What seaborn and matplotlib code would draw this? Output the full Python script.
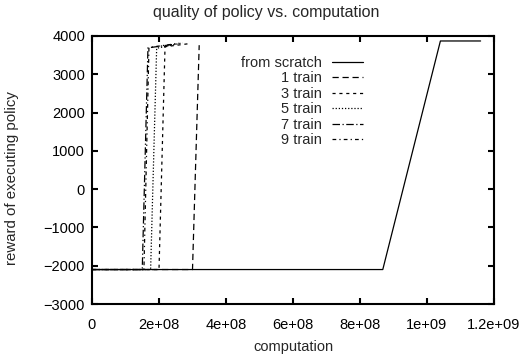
import matplotlib
matplotlib.use("Agg")
from matplotlib import pyplot as plt
import seaborn as sns

# values
scratch_x = [0, 8.68e8, 1.04e9, 1.16e9]
scratch_y = [-2100, -2100, 3870, 3870]

train1_x = [0, 3.0e8, 3.2e8]
train1_y = [-2100, -2100, 3760]

train3_x = [0, 2.0e8, 2.18e8, 2.9e8]
train3_y = [-2100, -2100, 3720, 3800]

train5_x = [0, 1.75e8, 1.93e8, 2.7e8]
train5_y = [-2100, -2100, 3680, 3820]

train7_x = [0, 1.5e8, 1.67e8, 2.5e8]
train7_y = [-2100, -2100, 3690, 3790]

train9_x = [0, 1.55e8, 1.7e8, 2.6e8]
train9_y = [-2100, -2100, 3700, 3810]

x_ticks = [0, 2e8, 4e8, 6e8, 8e8, 1e9, 1.2e9]
x_tick_labels = ['0', '2e+08', '4e+08', '6e+08', '8e+08', '1e+09', '1.2e+09']
y_ticks = [-3000, -2000, -1000, 0, 1000, 2000, 3000, 4000]

sns.set_style('ticks')
plt.rcParams['font.family'] = ['Liberation Sans', 'DejaVu Sans']
plt.rcParams['font.size'] = 10.5

fig = plt.figure(figsize=(5.23, 3.54), dpi=100)
ax = fig.add_axes([92 / 523, 1 - 304 / 354, 402 / 523, 268 / 354])

series = [
    ('from scratch', scratch_x, scratch_y, '-'),
    ('1 train', train1_x, train1_y, (0, (5, 3))),
    ('3 train', train3_x, train3_y, (0, (2.5, 3))),
    ('5 train', train5_x, train5_y, (0, (1, 1.5))),
    ('7 train', train7_x, train7_y, (0, (6, 2, 1, 2))),
    ('9 train', train9_x, train9_y, (0, (3, 2.5, 1, 2.5))),
]
for name, xs, ys, ls in series:
    sns.lineplot(x=xs, y=ys, ax=ax, color='black', linewidth=0.9,
                 linestyle=ls, label=name, sort=False, estimator=None)

ax.set_xlim(0, 1.2e9)
ax.set_ylim(-3000, 4000)
ax.set_xticks(x_ticks, x_tick_labels)
ax.set_yticks(y_ticks)
ax.tick_params(direction='in', length=4, width=1.5, top=True, right=True,
               labelsize=10.5, colors='black')
ax.tick_params(axis='x', pad=10)
ax.tick_params(axis='y', pad=5)
for sp in ax.spines.values():
    sp.set_linewidth(1.5)
    sp.set_color('black')

fig.text(266 / 523, 1 - 12 / 354, 'quality of policy vs. computation',
         fontsize=11.5, ha='center', va='center')
ax.set_xlabel('computation', fontsize=10.5, labelpad=6)
ax.set_ylabel('reward of executing policy', fontsize=10.8)
ax.yaxis.set_label_coords(-73 / 402, 0.47)

ax.legend(loc='upper right', bbox_to_anchor=((363 - 92) / 402, 1 - (56 - 36) / 268),
          frameon=False, markerfirst=False, borderpad=0, borderaxespad=0,
          labelspacing=0.1, handletextpad=0.7, handlelength=2.1, fontsize=10.5)

fig.savefig('out.png', dpi=100)
